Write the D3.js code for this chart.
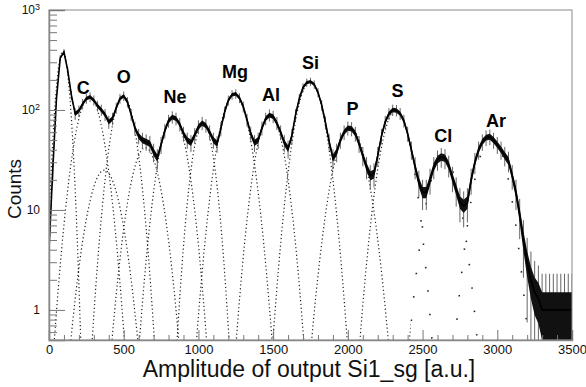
<!DOCTYPE html>
<html>
<head>
<meta charset="utf-8">
<script src="https://cdn.jsdelivr.net/npm/d3@7"></script>
<style>
  body { margin: 0; background: #fff; }
  svg { display: block; font-family: "Liberation Sans", Arial, Helvetica, sans-serif; }
</style>
</head>
<body>
<svg id="chart" width="586" height="387"></svg>
<script>
// histogram counts, one value every 25 units of amplitude
const binStart = 0, binStep = 25;
const counts = [
    4, 25, 130, 330, 380, 250, 140, 92, 98, 115,            // 0 - 225
    130, 135, 125, 110, 100, 90, 76, 82, 105, 130,          // 250 - 475
    138, 120, 90, 66, 55, 50, 48, 46, 38, 33,               // 500 - 725
    45, 62, 78, 85, 82, 72, 58, 50, 47, 56,                 // 750 - 975
    68, 74, 70, 60, 50, 46, 65, 95, 125, 142,               // 1000 - 1225
    145, 132, 108, 80, 58, 47, 50, 66, 82, 89,              // 1250 - 1475
    86, 74, 60, 47, 41, 55, 90, 130, 168, 188,              // 1500 - 1725
    192, 180, 150, 112, 75, 48, 33, 38, 50, 60,             // 1750 - 1975
    66, 65, 58, 46, 35, 27, 22, 23, 35, 55,                 // 2000 - 2225
    76, 92, 100, 99, 92, 78, 58, 40, 27, 19,                // 2250 - 2475
    15, 15, 20, 27, 32, 34, 33, 28, 21, 16,                 // 2500 - 2725
    12, 11, 12, 20, 30, 40, 48, 53, 54, 50,                 // 2750 - 2975
    45, 40, 35, 31, 22, 15, 9, 5, 3, 2,                     // 3000 - 3225
    1.5, 1.3, 1, 1, 1, 1, 1, 1, 1, 1,                       // 3250 - 3475
    1                                                       // 3500
];

// gaussian fits: mean, amplitude, sigma
const fitNames = ["noise", "C", "N", "O", "F", "Ne", "Na", "Mg", "Al", "Si", "P", "S", "Cl", "Ar"];
const fitMeans = [92, 270, 370, 497, 645, 830, 1031, 1240, 1479, 1747, 2014, 2322, 2639, 2962];
const fitAmps = [383, 135, 25, 138, 42, 85, 74, 145, 89, 192, 66, 100, 34, 54];
const fitSigmas = [33, 70, 80, 62, 75, 70, 55, 75, 70, 72, 82, 74, 78, 80];

// element labels (anchor in amplitude / counts)
const labelNames = ["C", "O", "Ne", "Mg", "Al", "Si", "P", "S", "Cl", "Ar"];
const labelX = [230, 500, 843, 1245, 1486, 1750, 2031, 2332, 2639, 2991];
const labelY = [144, 185, 118, 207, 123, 255, 89, 134, 48, 67];

const xMajor = [0, 500, 1000, 1500, 2000, 2500, 3000, 3500];
const yMajor = [1, 10, 100, 1000];

const width = 586, height = 387;
const margin = {top: 10, right: 14, bottom: 47, left: 49};
const svg = d3.select("#chart");

const x = d3.scaleLinear().domain([0, 3500]).range([margin.left, width - margin.right]);
const y = d3.scaleLog().domain([0.5, 1000]).range([height - margin.bottom, margin.top]);

// clip regions: dense dotted fits on the left, sparse dots on the right
const defs = svg.append("defs");
const splitX = x(2420);
defs.append("clipPath").attr("id", "clipAll").append("rect")
    .attr("x", margin.left).attr("y", margin.top)
    .attr("width", x(3500) - margin.left).attr("height", y(0.5) - margin.top);
defs.append("clipPath").attr("id", "clipDense").append("rect")
    .attr("x", margin.left).attr("y", margin.top)
    .attr("width", splitX - margin.left).attr("height", y(0.5) - margin.top);
defs.append("clipPath").attr("id", "clipSparse").append("rect")
    .attr("x", splitX).attr("y", margin.top)
    .attr("width", x(3500) - splitX).attr("height", y(0.5) - margin.top);

// fit curves
const fitPts = d3.range(0, 3501, 4);
const fits = fitMeans.map((m, i) => fitPts.map(v => {
    const g = fitAmps[i] * Math.exp(-0.5 * Math.pow((v - m) / fitSigmas[i], 2));
    return [v, Math.max(g, 0.3)];
}));
const fitLine = d3.line().x(d => x(d[0])).y(d => y(d[1]));

svg.append("g").attr("clip-path", "url(#clipDense)")
    .selectAll("path").data(fits).join("path")
    .attr("d", fitLine)
    .attr("fill", "none").attr("stroke", "#222")
    .attr("stroke-width", 1.2).attr("stroke-dasharray", "1.2,2.6");
svg.append("g").attr("clip-path", "url(#clipSparse)")
    .selectAll("path").data(fits).join("path")
    .attr("d", fitLine)
    .attr("fill", "none").attr("stroke", "#222")
    .attr("stroke-width", 1.6).attr("stroke-dasharray", "1.5,22");

// histogram
const hist = counts.map((c, i) => ({v: binStart + i * binStep, c: c}));
const hg = svg.append("g").attr("clip-path", "url(#clipAll)");
hg.selectAll("line.err").data(hist).join("line")
    .attr("class", "err")
    .attr("x1", d => x(d.v)).attr("x2", d => x(d.v))
    .attr("y1", d => y(Math.max(d.c - 1.3 * Math.sqrt(d.c), 0.3)))
    .attr("y2", d => y(d.c + 1.3 * Math.sqrt(d.c)))
    .attr("stroke", "#666").attr("stroke-width", 1);
hg.append("path").datum(hist)
    .attr("d", d3.area().x(d => x(d.v))
        .y0(d => y(Math.max(d.c - 0.5 * Math.sqrt(d.c), 0.3)))
        .y1(d => y(d.c + 0.5 * Math.sqrt(d.c))))
    .attr("fill", "#111");
hg.append("path").datum(hist)
    .attr("d", d3.line().x(d => x(d.v)).y(d => y(d.c)))
    .attr("fill", "none").attr("stroke", "#000").attr("stroke-width", 1.6);

// frame
svg.append("rect")
    .attr("x", margin.left).attr("y", margin.top)
    .attr("width", x(3500) - margin.left).attr("height", y(0.5) - margin.top)
    .attr("fill", "none").attr("stroke", "#8a8a8a").attr("stroke-width", 1);

// x axis
const xMinor = d3.range(0, 3501, 100).filter(v => v % 500 !== 0);
svg.append("g").attr("transform", `translate(0,${y(0.5)})`)
    .call(d3.axisBottom(x).tickValues(xMinor).tickSize(-5).tickFormat(""))
    .call(g => g.select(".domain").remove())
    .call(g => g.selectAll("text").remove())
    .call(g => g.selectAll("line").attr("stroke", "#777"));
const xAxisG = svg.append("g").attr("transform", `translate(0,${y(0.5)})`)
    .call(d3.axisBottom(x).tickValues(xMajor).tickSize(-10).tickPadding(5).tickFormat(d3.format("d")))
    .call(g => g.select(".domain").attr("stroke", "#888").attr("stroke-width", 1.5));
xAxisG.selectAll("line").attr("stroke", "#777");
xAxisG.selectAll("text").attr("font-size", 13).attr("fill", "#111")
    .attr("font-family", "Liberation Sans, Arial, sans-serif");

// y axis
const yMinor = [];
[0.1, 1, 10, 100].forEach(dec => {
    for (let k = 2; k <= 9; k++) {
        const v = dec * k;
        if (v >= 0.5 && v < 1000) yMinor.push(v);
    }
});
svg.append("g").attr("transform", `translate(${margin.left},0)`)
    .call(d3.axisLeft(y).tickValues(yMinor).tickSize(-8).tickFormat(""))
    .call(g => g.select(".domain").remove())
    .call(g => g.selectAll("text").remove())
    .call(g => g.selectAll("line").attr("stroke", "#777"));
const yAxisG = svg.append("g").attr("transform", `translate(${margin.left},0)`)
    .call(d3.axisLeft(y).tickValues(yMajor).tickSize(-16).tickPadding(9).tickFormat(""))
    .call(g => g.select(".domain").attr("stroke", "#888").attr("stroke-width", 1.5));
yAxisG.selectAll("line").attr("stroke", "#777");
yAxisG.selectAll(".tick text")
    .attr("font-size", 12).attr("fill", "#111")
    .attr("font-family", "Liberation Sans, Arial, sans-serif")
    .each(function (d) {
        const t = d3.select(this);
        const p = Math.round(Math.log10(d));
        if (p <= 1) {
            t.text(String(d));
        } else {
            t.append("tspan").text("10");
            t.append("tspan").attr("dy", "-0.45em").attr("font-size", 9).text(String(p));
        }
    });

// axis titles
svg.append("text")
    .attr("x", 309).attr("y", 377)
    .attr("text-anchor", "middle")
    .attr("font-size", 23).attr("fill", "#111")
    .text("Amplitude of output Si1_sg [a.u.]");
svg.append("text")
    .attr("transform", "translate(21,189) rotate(-90)")
    .attr("text-anchor", "middle")
    .attr("font-size", 19).attr("fill", "#111")
    .text("Counts");

// element labels
svg.append("g").selectAll("text").data(labelNames).join("text")
    .attr("x", (d, i) => x(labelX[i]))
    .attr("y", (d, i) => y(labelY[i]))
    .attr("text-anchor", "middle")
    .attr("font-size", 18).attr("font-weight", "bold").attr("fill", "#000")
    .text(d => d);
</script>
</body>
</html>
